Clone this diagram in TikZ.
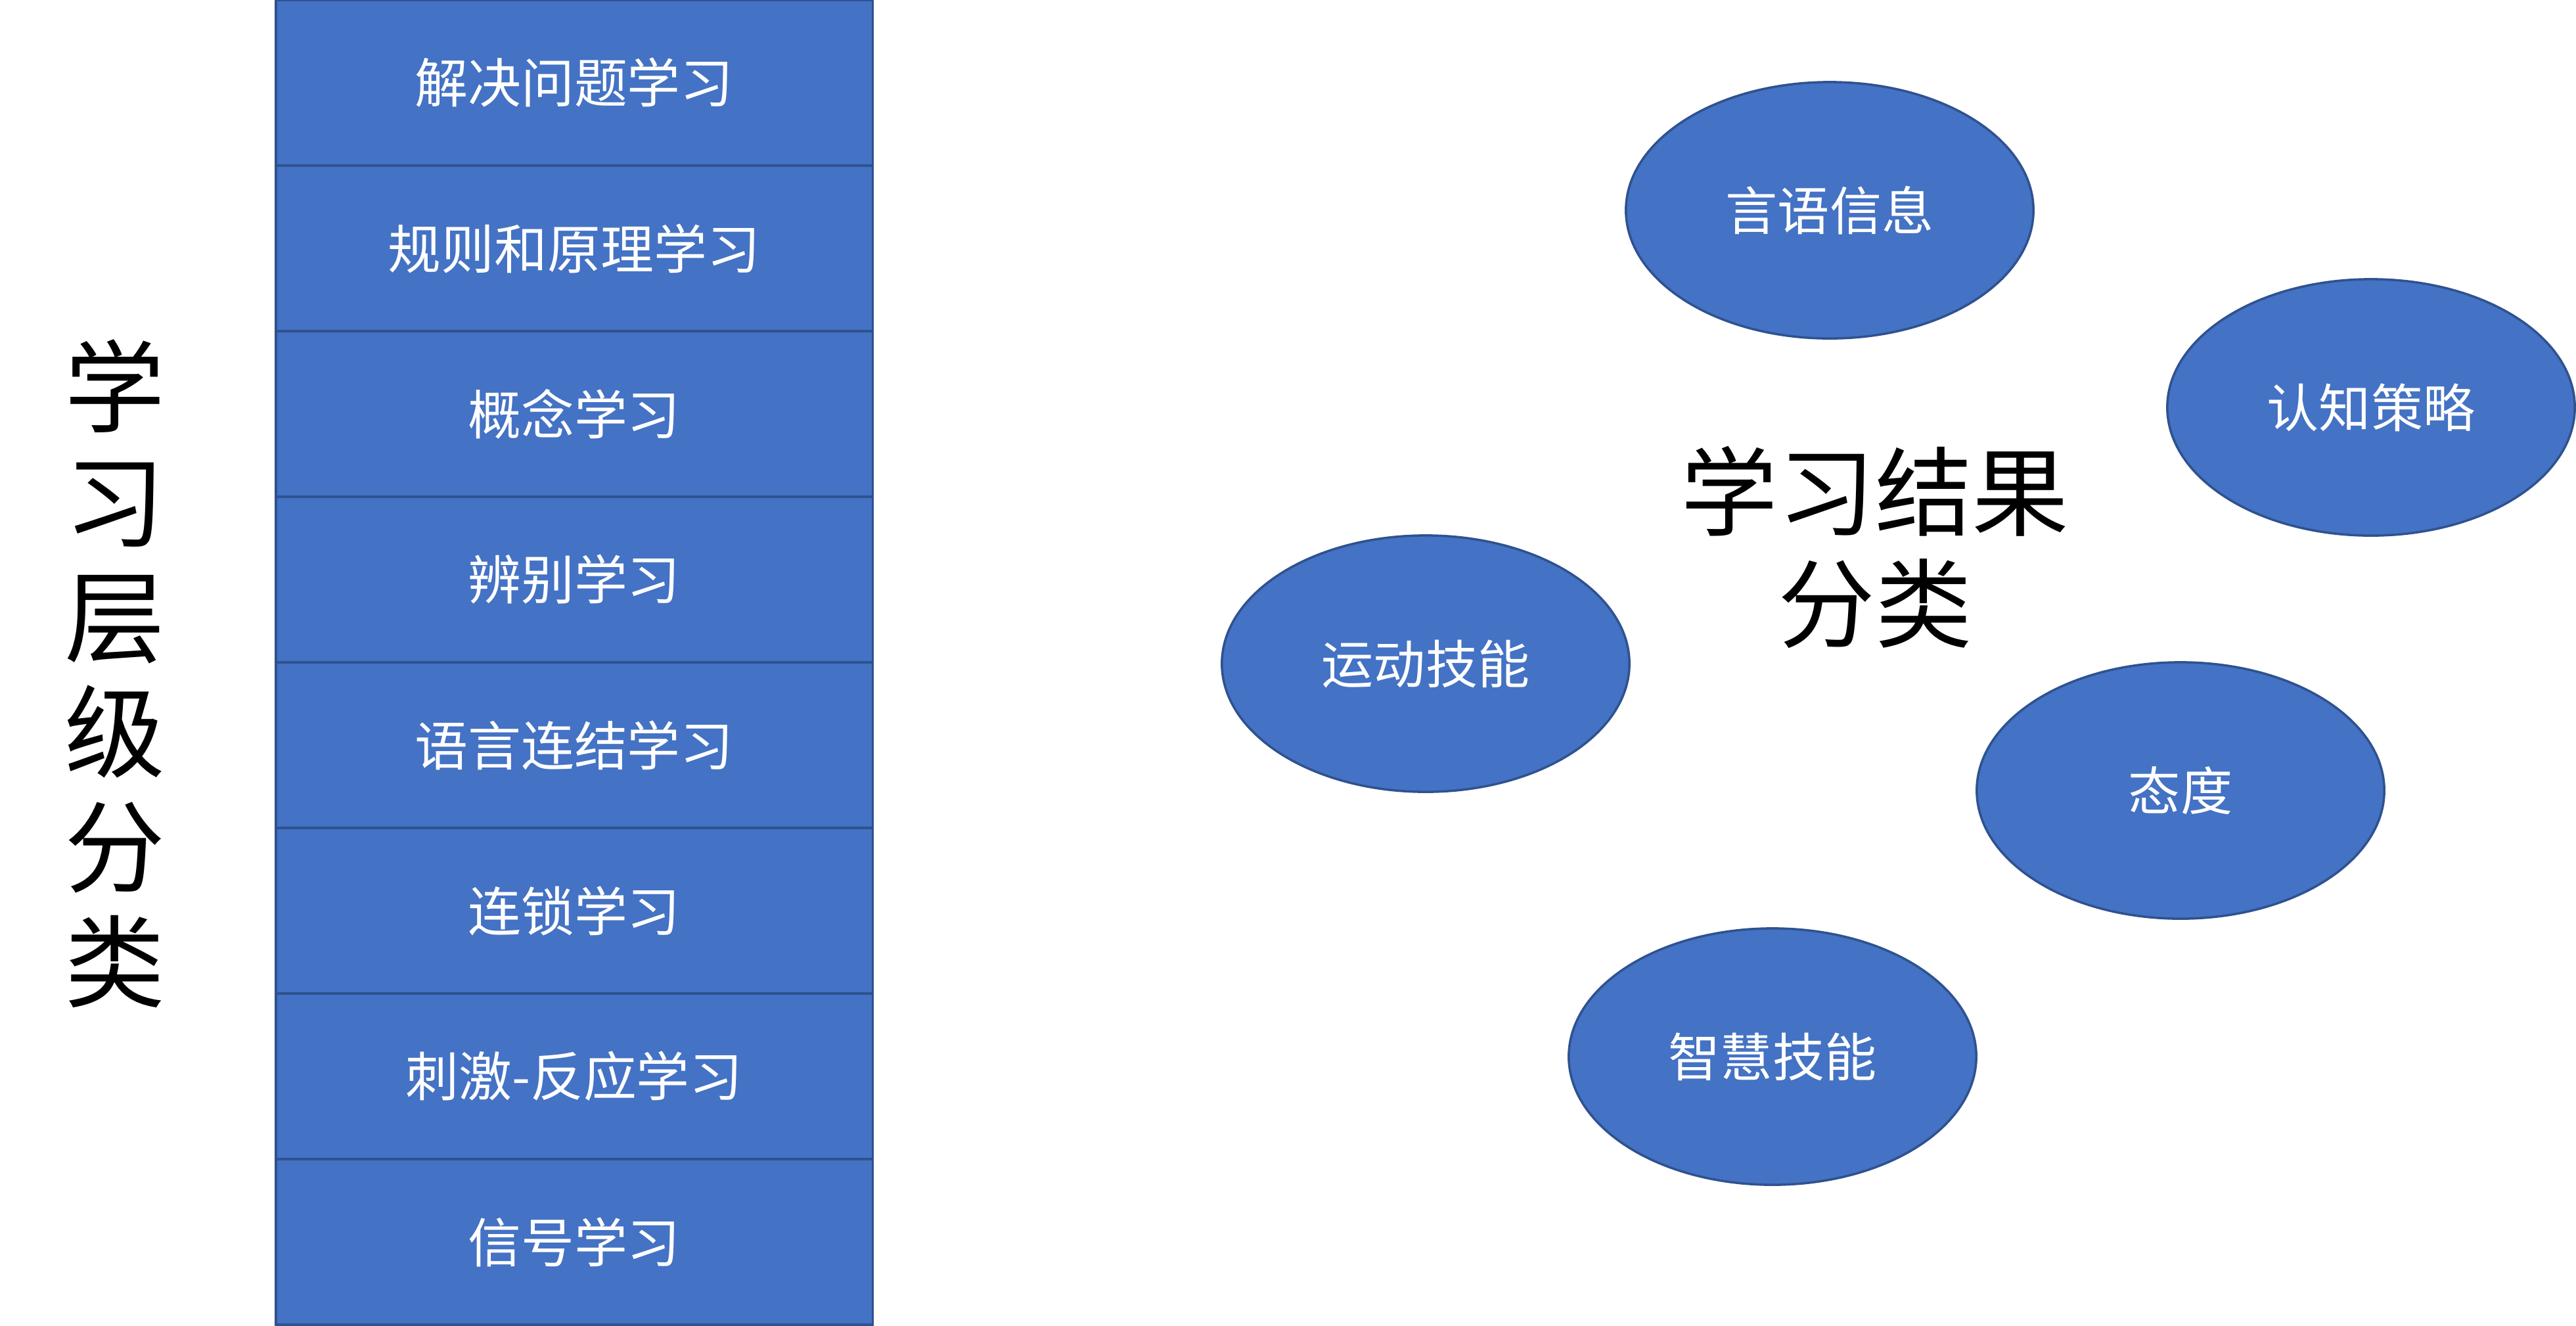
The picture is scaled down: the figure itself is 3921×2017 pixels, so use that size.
\documentclass[tikz,border=0pt]{standalone}
\usepackage{fontspec}
\newfontfamily\cjk{Noto Sans CJK SC}
\usetikzlibrary{shapes.geometric}
\definecolor{boxblue}{HTML}{4472C4}
\definecolor{edgeblue}{HTML}{2F528F}
\begin{document}
\begin{tikzpicture}[x=0.01cm, y=-0.01cm,
  levelbox/.style={draw=edgeblue, fill=boxblue, line width=1pt, minimum width=9.08cm, minimum height=2.52cm, inner sep=0pt, text=white, font=\cjk\fontsize{23pt}{27pt}\selectfont},
  outcome/.style={ellipse, draw=edgeblue, fill=boxblue, line width=1pt, minimum width=6.2cm, minimum height=3.9cm, inner sep=0pt, text=white, font=\cjk\fontsize{22.5pt}{27pt}\selectfont},
  bigtitle/.style={align=center, inner sep=0pt, font=\cjk\fontsize{42pt}{48.4pt}\selectfont}]
\useasboundingbox (0,0) rectangle (3921,2017);
% hierarchy column
\foreach \name/\txt [count=\i from 0] in {solve/解决问题学习, rule/规则和原理学习, concept/概念学习, discrim/辨别学习, verbal/语言连结学习, chain/连锁学习, stimresp/刺激-反应学习, signal/信号学习}
  \node[levelbox] (\name) at (874,126+252*\i) {\txt};
\node[bigtitle, font=\cjk\fontsize{43.5pt}{49.8pt}\selectfont] (leveltitle) at (175,1025) {学\\习\\层\\级\\分\\类};
% learning outcomes
\node[bigtitle] (outtitle) at (2854,833) {学习结果\\分类};
\node[outcome] (verbinfo) at (2785,320) {言语信息};
\node[outcome] (cogstrat) at (3609,620) {认知策略};
\node[outcome] (motor) at (2170,1010) {运动技能};
\node[outcome] (attitude) at (3319,1203) {态度};
\node[outcome] (intellect) at (2698,1608) {智慧技能};
\end{tikzpicture}
\end{document}
